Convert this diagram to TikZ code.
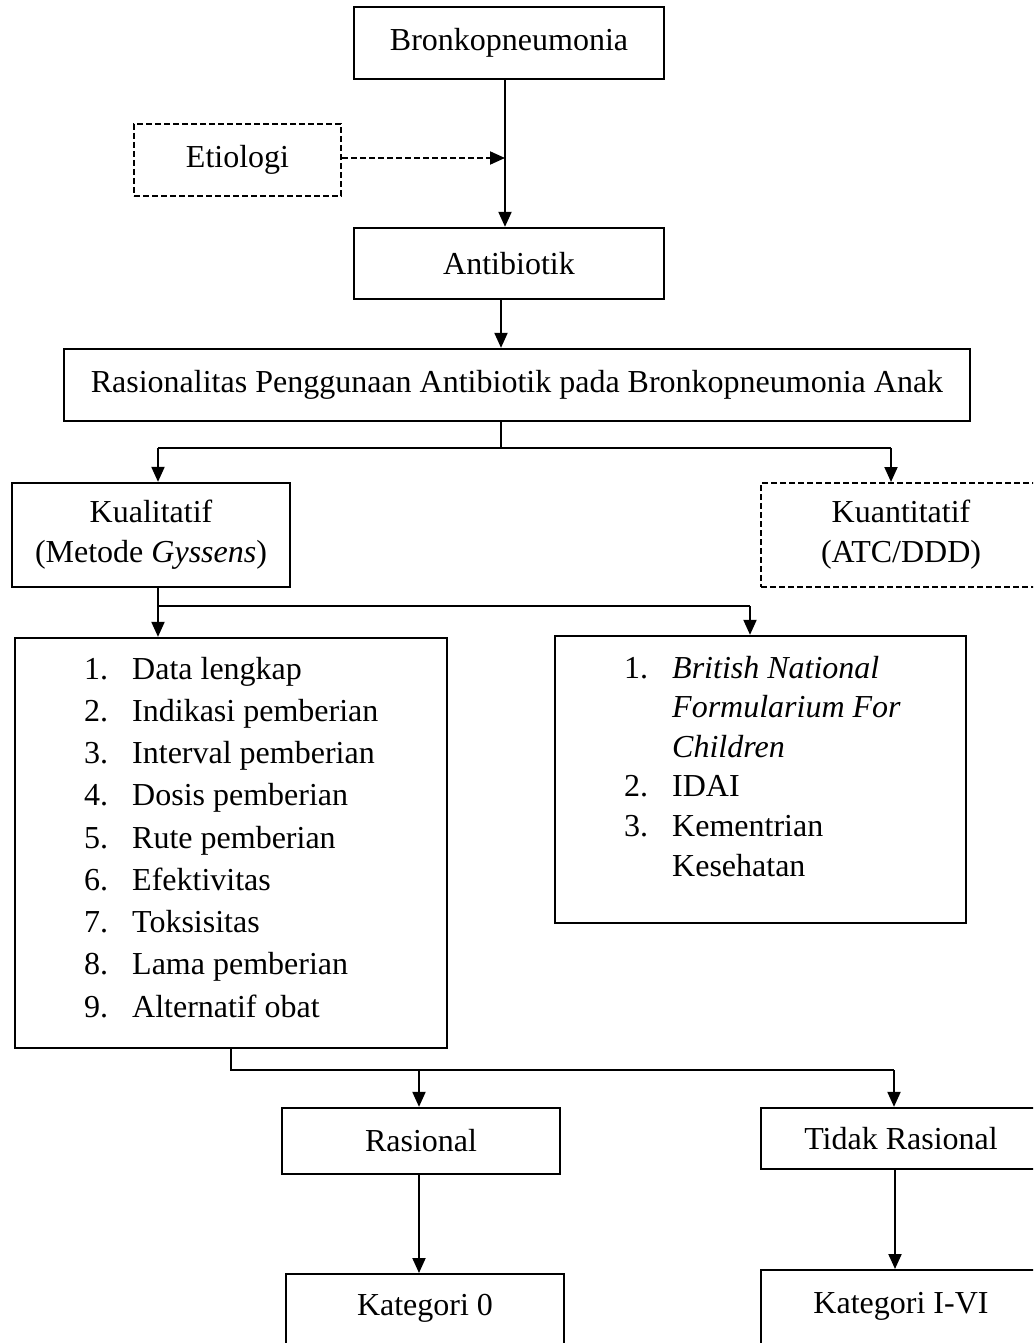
\documentclass[tikz,border=0pt]{standalone}
\usepackage{fontspec}
\setmainfont{Liberation Serif}
\usetikzlibrary{arrows.meta,calc}
\begin{document}
\begin{tikzpicture}[x=1pt,y=-1pt,
  box/.style={draw,line width=2.3pt,inner sep=0pt,align=center,
    font=\fontsize{32}{40}\selectfont},
  dbox/.style={box,line width=2pt,dash pattern=on 6pt off 3pt},
  link/.style={line width=2pt},
  arr/.style={link,-{Triangle[length=15pt,width=13pt]}},
  darr/.style={arr,dash pattern=on 6pt off 3pt},
  listtext/.style={inner sep=0pt,anchor=base west}]
\useasboundingbox (0,0) rectangle (1033,1343);
\clip (0,0) rectangle (1033,1343);

% boxes
\node[box,minimum width=310pt,minimum height=72pt] (bronko) at (509,43) {Bronkopneumonia};
\node[dbox,minimum width=207pt,minimum height=72pt] (etio) at (237.5,160) {Etiologi};
\node[box,minimum width=310pt,minimum height=71pt] (anti) at (509,263.5) {Antibiotik};
\node[box,minimum width=906pt,minimum height=72pt] (rasio) at (517,385)
  {Rasionalitas Penggunaan Antibiotik pada Bronkopneumonia Anak};
\node[box,minimum width=278pt,minimum height=104pt] (kual) at (151,535)
  {Kualitatif\\(Metode \textit{Gyssens})};
\node[dbox,minimum width=280pt,minimum height=104pt] (kuan) at (901,535)
  {Kuantitatif\\(ATC/DDD)};
\node[box,minimum width=432pt,minimum height=410pt] (crit) at (231,843) {};
\node[box,minimum width=411pt,minimum height=287pt] (ref) at (760.5,779.5) {};
\node[box,minimum width=278pt,minimum height=66pt] (ras) at (421,1141) {Rasional};
\node[box,minimum width=280pt,minimum height=61pt] (tdk) at (901,1138.5) {Tidak Rasional};
% the two bottom boxes run past the lower edge
\node[box,minimum width=278pt,text height=41pt,text depth=50pt,anchor=north]
  (kat0) at (425,1273) {Kategori 0};
\node[box,minimum width=280pt,text height=43pt,text depth=50pt,anchor=north]
  (kat1) at (901,1269) {Kategori I-VI};

% list contents
\node[listtext] (critlist) at (84,679) {\fontsize{32}{42.25}\selectfont
  \begin{tabular}[t]{@{}p{48pt}@{}l@{}}
  1. & Data lengkap\\
  2. & Indikasi pemberian\\
  3. & Interval pemberian\\
  4. & Dosis pemberian\\
  5. & Rute pemberian\\
  6. & Efektivitas\\
  7. & Toksisitas\\
  8. & Lama pemberian\\
  9. & Alternatif obat
  \end{tabular}};
\node[listtext] (reflist) at (624,678) {\fontsize{32}{39.6}\selectfont
  \begin{tabular}[t]{@{}p{48pt}@{}l@{}}
  1. & \textit{British National}\\
     & \textit{Formularium For}\\
     & \textit{Children}\\
  2. & IDAI\\
  3. & Kementrian\\
     & Kesehatan
  \end{tabular}};

% connectors
\coordinate (m1) at (505,158);
\draw[arr] ([xshift=-4pt]bronko.south) -- (m1 |- anti.north);
\draw[darr] (etio.east |- m1) -- (m1);

\coordinate (a1) at (501,0);
\draw[arr] (a1 |- anti.south) -- (a1 |- rasio.north);

\coordinate (j1) at (501,448);
\coordinate (j1L) at (158,448);
\coordinate (j1R) at (891,448);
\draw[link] (j1 |- rasio.south) -- (j1);
\draw[link] (j1L) -- (j1R);
\draw[arr] (j1L) -- (j1L |- kual.north);
\draw[arr] (j1R) -- (j1R |- kuan.north);

\coordinate (j2L) at (158,606);
\coordinate (j2R) at (750,606);
\draw[link] (j2L |- kual.south) -- (j2L) -- (j2R);
\draw[arr] (j2L) -- (j2L |- crit.north);
\draw[arr] (j2R) -- (j2R |- ref.north);

\coordinate (j3) at (231,1070);
\coordinate (j3M) at (419,1070);
\coordinate (j3R) at (894,1070);
\draw[link] (j3 |- crit.south) -- (j3) -- (j3R);
\draw[arr] (j3M) -- (j3M |- ras.north);
\draw[arr] (j3R) -- (j3R |- tdk.north);

\coordinate (r1) at (419,0);
\coordinate (t1) at (895,0);
\draw[arr] (r1 |- ras.south) -- (r1 |- kat0.north);
\draw[arr] (t1 |- tdk.south) -- (t1 |- kat1.north);
\end{tikzpicture}
\end{document}
